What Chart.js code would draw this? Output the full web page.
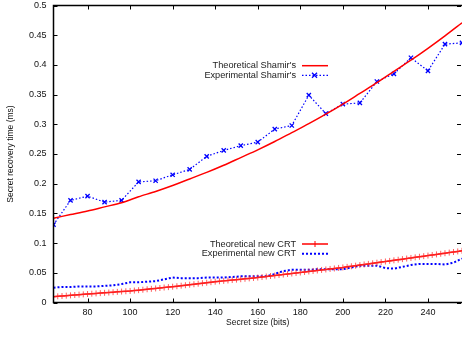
<!DOCTYPE html>
<html>
<head>
<meta charset="utf-8">
<script src="https://cdn.jsdelivr.net/npm/chart.js@4.4.1/dist/chart.umd.min.js"></script>
<style>
  html, body { margin: 0; padding: 0; background: #fff; }
  #wrap { width: 462px; height: 337px; }
</style>
</head>
<body>
<div id="wrap"><canvas id="myChart" width="462" height="337"></canvas></div>
<script>
// secret sizes (bits) for the Shamir's series, every 8 bits
var sizesShamir = [64,72,80,88,96,104,112,120,128,136,144,152,160,168,176,184,192,200,208,216,224,232,240,248,256];
var theoShamir = [0.142,0.148,0.154,0.161,0.168,0.178,0.187,0.197,0.208,0.219,0.231,0.244,0.257,0.271,0.286,0.301,0.317,0.334,0.352,0.370,0.389,0.408,0.428,0.449,0.471];
var expShamir = [0.131,0.172,0.179,0.169,0.172,0.203,0.205,0.215,0.224,0.246,0.256,0.264,0.270,0.292,0.298,0.349,0.318,0.334,0.336,0.372,0.385,0.412,0.390,0.435,0.437];

// theoretical new CRT, every 2 bits from 64 to 256
var sizesTheoCRT = [64,66,68,70,72,74,76,78,80,82,84,86,88,90,92,94,96,98,100,102,104,106,108,110,112,114,116,118,120,122,124,126,128,130,132,134,136,138,140,142,144,146,148,150,152,154,156,158,160,162,164,166,168,170,172,174,176,178,180,182,184,186,188,190,192,194,196,198,200,202,204,206,208,210,212,214,216,218,220,222,224,226,228,230,232,234,236,238,240,242,244,246,248,250,252,254,256];
var theoCRT = [0.0098,0.0104,0.0109,0.0115,0.0120,0.0126,0.0132,0.0137,0.0143,0.0148,0.0153,0.0158,0.0163,0.0168,0.0174,0.0179,0.0184,0.0189,0.0194,0.0201,0.0208,0.0215,0.0223,0.0230,0.0237,0.0244,0.0252,0.0259,0.0266,0.0274,0.0283,0.0291,0.0300,0.0308,0.0316,0.0325,0.0333,0.0342,0.0350,0.0357,0.0364,0.0371,0.0378,0.0385,0.0392,0.0399,0.0406,0.0413,0.0420,0.0429,0.0437,0.0446,0.0454,0.0463,0.0471,0.0480,0.0488,0.0497,0.0505,0.0514,0.0522,0.0531,0.0539,0.0548,0.0556,0.0565,0.0573,0.0582,0.0590,0.0600,0.0610,0.0620,0.0630,0.0640,0.0650,0.0660,0.0670,0.0680,0.0690,0.0700,0.0710,0.0720,0.0730,0.0740,0.0750,0.0760,0.0770,0.0780,0.0790,0.0800,0.0810,0.0820,0.0830,0.0840,0.0850,0.0860,0.0870];

// experimental new CRT, every 4 bits
var sizesExpCRT = [64,68,72,76,80,84,88,92,96,100,104,108,112,116,120,124,128,132,136,140,144,148,152,156,160,164,168,172,176,180,184,188,192,196,200,204,208,212,216,220,224,228,232,236,240,244,248,252,256];
var expCRT = [0.025,0.026,0.026,0.027,0.027,0.027,0.028,0.029,0.031,0.034,0.034,0.035,0.036,0.039,0.042,0.041,0.041,0.041,0.042,0.042,0.042,0.043,0.044,0.044,0.044,0.044,0.048,0.053,0.055,0.055,0.055,0.056,0.056,0.056,0.056,0.059,0.062,0.062,0.062,0.058,0.057,0.060,0.063,0.065,0.065,0.065,0.064,0.067,0.074];

var xTicks = [80,100,120,140,160,180,200,220,240];

function pts(xs, ys) {
  return xs.map(function (x, i) { return { x: x, y: ys[i] }; });
}

var FONT = '"Liberation Sans", Arial, sans-serif';

// gnuplot-ish frame, inward ticks and the key
var gnuplotLook = {
  id: 'gnuplotLook',
  afterDatasetsDraw: function (chart) {
    var ctx = chart.ctx, a = chart.chartArea;
    var xs = chart.scales.x, ys = chart.scales.y;
    ctx.save();
    ctx.strokeStyle = '#000';
    ctx.lineWidth = 1;
    xs.ticks.forEach(function (t) {
      var px = Math.round(xs.getPixelForValue(t.value)) + 0.5;
      ctx.beginPath();
      ctx.moveTo(px, a.bottom); ctx.lineTo(px, a.bottom - 4);
      ctx.moveTo(px, a.top); ctx.lineTo(px, a.top + 4);
      ctx.stroke();
    });
    ys.ticks.forEach(function (t) {
      var py = Math.round(ys.getPixelForValue(t.value)) + 0.5;
      ctx.beginPath();
      ctx.moveTo(a.left, py); ctx.lineTo(a.left + 4, py);
      ctx.moveTo(a.right - 1, py); ctx.lineTo(a.right - 5, py);
      ctx.stroke();
    });
    ctx.lineWidth = 1.5;
    ctx.strokeRect(a.left, a.top, a.right - a.left + 2, a.bottom - a.top);

    // key
    var rows = [[0, 65.7], [1, 75.3], [2, 244], [3, 253.7]];
    ctx.font = '9.2px ' + FONT;
    ctx.textAlign = 'right';
    ctx.textBaseline = 'middle';
    rows.forEach(function (r) {
      var ds = chart.data.datasets[r[0]], y = r[1];
      ctx.fillStyle = '#222';
      ctx.fillText(ds.label, 296, y);
      ctx.strokeStyle = ds.borderColor;
      ctx.lineWidth = ds.borderWidth;
      ctx.setLineDash(ds.borderDash || []);
      ctx.beginPath(); ctx.moveTo(302, y); ctx.lineTo(328, y); ctx.stroke();
      ctx.setLineDash([]);
      if (ds.pointStyle === 'crossRot') {
        ctx.lineWidth = 1.3;
        ctx.beginPath();
        ctx.moveTo(312, y - 2.5); ctx.lineTo(317, y + 2.5);
        ctx.moveTo(317, y - 2.5); ctx.lineTo(312, y + 2.5);
        ctx.stroke();
      } else if (ds.pointStyle === 'cross') {
        ctx.lineWidth = 1;
        ctx.beginPath();
        ctx.moveTo(315, y - 3); ctx.lineTo(315, y + 3);
        ctx.stroke();
      }
    });
    ctx.restore();
  }
};

var ctx = document.getElementById('myChart');
var myChart = new Chart(ctx, {
  type: 'line',
  data: {
    datasets: [
      {
        label: "Theoretical Shamir's",
        data: pts(sizesShamir, theoShamir),
        borderColor: '#ff0000',
        borderWidth: 1.5,
        pointRadius: 0,
        tension: 0.3,
        fill: false
      },
      {
        label: "Experimental Shamir's",
        data: pts(sizesShamir, expShamir),
        borderColor: '#0000ff',
        borderWidth: 1.2,
        borderDash: [1.5, 2],
        pointStyle: 'crossRot',
        pointRadius: 3,
        pointBorderWidth: 1.3,
        pointBorderColor: '#0000ff',
        fill: false
      },
      {
        label: 'Theoretical new CRT',
        data: pts(sizesTheoCRT, theoCRT),
        borderColor: '#ff0000',
        borderWidth: 1.5,
        pointStyle: 'cross',
        pointRadius: 3,
        pointBorderWidth: 1,
        pointBorderColor: 'rgba(255,40,40,0.75)',
        fill: false
      },
      {
        label: 'Experimental new CRT',
        data: pts(sizesExpCRT, expCRT),
        borderColor: '#0000ff',
        borderWidth: 2,
        borderDash: [2, 2],
        pointRadius: 0,
        fill: false
      }
    ]
  },
  options: {
    responsive: false,
    animation: false,
    layout: { autoPadding: false, padding: { top: 5.5, right: 0, left: 0, bottom: 0 } },
    plugins: {
      legend: { display: false },
      tooltip: { enabled: false }
    },
    scales: {
      x: {
        type: 'linear',
        min: 64,
        max: 256,
        grid: { display: false, drawTicks: false },
        border: { display: false },
        afterBuildTicks: function (scale) {
          scale.ticks = xTicks.map(function (v) { return { value: v }; });
        },
        afterFit: function (scale) {
          scale.height = 34.5;
          scale.paddingLeft = 0; scale.paddingRight = 0;
        },
        ticks: {
          padding: 5,
          color: '#111',
          font: { family: FONT, size: 9 },
          maxRotation: 0
        },
        title: {
          display: true,
          text: 'Secret size (bits)',
          color: '#111',
          font: { family: FONT, size: 8.5 },
          padding: { top: 0, bottom: 9 }
        }
      },
      y: {
        min: 0,
        max: 0.5,
        grid: { display: false, drawTicks: false },
        border: { display: false },
        afterFit: function (scale) {
          scale.width = 53.5;
          scale.paddingTop = 0; scale.paddingBottom = 0;
        },
        ticks: {
          stepSize: 0.05,
          padding: 7,
          color: '#111',
          font: { family: FONT, size: 9 },
          callback: function (v) { return String(Number(v.toFixed(2))); }
        },
        title: {
          display: true,
          text: 'Secret recovery time (ms)',
          color: '#111',
          font: { family: FONT, size: 8.5 },
          padding: { top: 6, bottom: 0 }
        }
      }
    }
  },
  plugins: [gnuplotLook]
});
</script>
</body>
</html>
